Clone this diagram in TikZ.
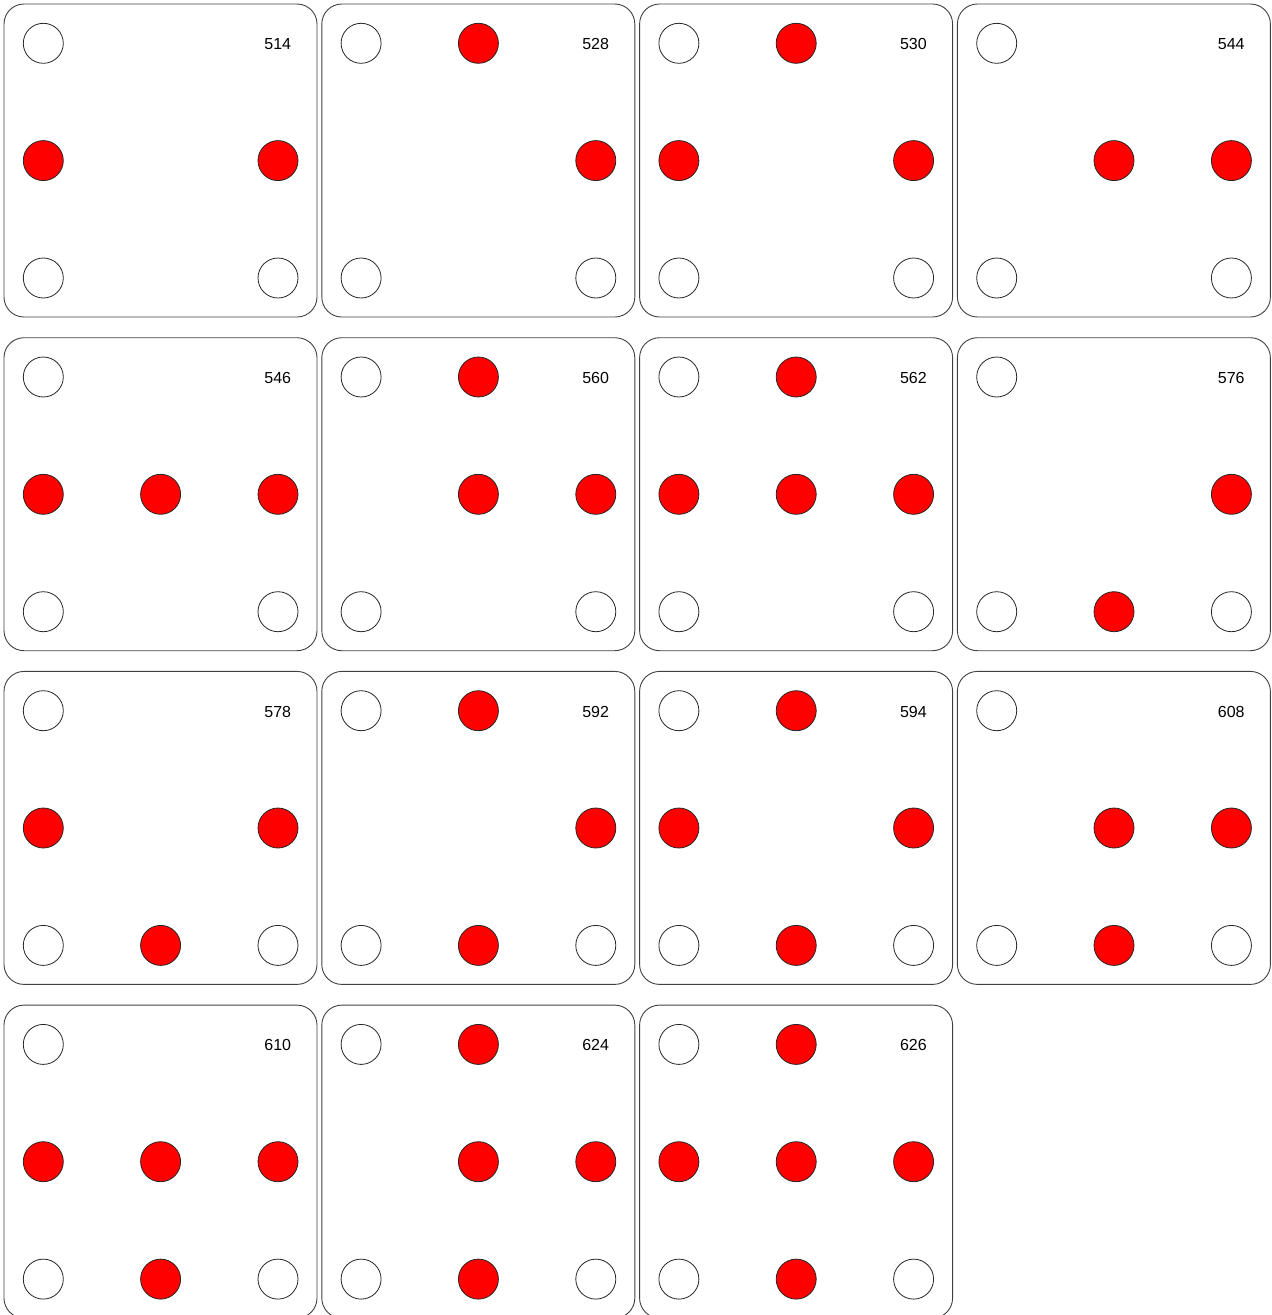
\documentclass[tikz,border=0pt]{standalone}
\usepackage{fontspec}
\setmainfont{Liberation Sans}
\tikzset{
  cardbox/.style={rectangle, draw=black!75, line width=0.9pt, rounded corners=20pt,
    minimum width=313pt, minimum height=313pt, inner sep=0pt, outer sep=0pt, anchor=north west},
  hole/.style={circle, draw=black!85, line width=0.8pt, minimum size=40pt, inner sep=0pt, fill=white},
  peg/.style={hole, fill=red},
  numlab/.style={font=\fontsize{16}{19}\selectfont, inner sep=0pt}
}
% #1 col, #2 row, #3 number, #4 top, #5 left, #6 centre, #7 right, #8 bottom
\newcommand\mycard[8]{%
  \begin{scope}[shift={(4+317.8*#1, 4+333.7*#2)}]
    \node[cardbox] (card#3) at (0,0) {};
    \node[hole] (h#3tl) at (39.3,39.3) {};
    \node[hole] (h#3bl) at (39.3,274) {};
    \node[hole] (h#3br) at (274,274) {};
    \node[numlab] (n#3) at (273.8,40.3) {#3};
    \ifnum#4=1 \node[peg] (p#3t) at (156.6,39.3) {};\fi
    \ifnum#5=1 \node[peg] (p#3l) at (39.3,156.6) {};\fi
    \ifnum#6=1 \node[peg] (p#3c) at (156.6,156.6) {};\fi
    \ifnum#7=1 \node[peg] (p#3r) at (274,156.6) {};\fi
    \ifnum#8=1 \node[peg] (p#3b) at (156.6,274) {};\fi
  \end{scope}%
}
\begin{document}
\begin{tikzpicture}[x=1pt, y=-1pt]
  \useasboundingbox (0,0) rectangle (1272,1315);
  \clip (0,0) rectangle (1272,1315);
  \mycard{0}{0}{514}{0}{1}{0}{1}{0}
  \mycard{1}{0}{528}{1}{0}{0}{1}{0}
  \mycard{2}{0}{530}{1}{1}{0}{1}{0}
  \mycard{3}{0}{544}{0}{0}{1}{1}{0}
  \mycard{0}{1}{546}{0}{1}{1}{1}{0}
  \mycard{1}{1}{560}{1}{0}{1}{1}{0}
  \mycard{2}{1}{562}{1}{1}{1}{1}{0}
  \mycard{3}{1}{576}{0}{0}{0}{1}{1}
  \mycard{0}{2}{578}{0}{1}{0}{1}{1}
  \mycard{1}{2}{592}{1}{0}{0}{1}{1}
  \mycard{2}{2}{594}{1}{1}{0}{1}{1}
  \mycard{3}{2}{608}{0}{0}{1}{1}{1}
  \mycard{0}{3}{610}{0}{1}{1}{1}{1}
  \mycard{1}{3}{624}{1}{0}{1}{1}{1}
  \mycard{2}{3}{626}{1}{1}{1}{1}{1}
\end{tikzpicture}
\end{document}
